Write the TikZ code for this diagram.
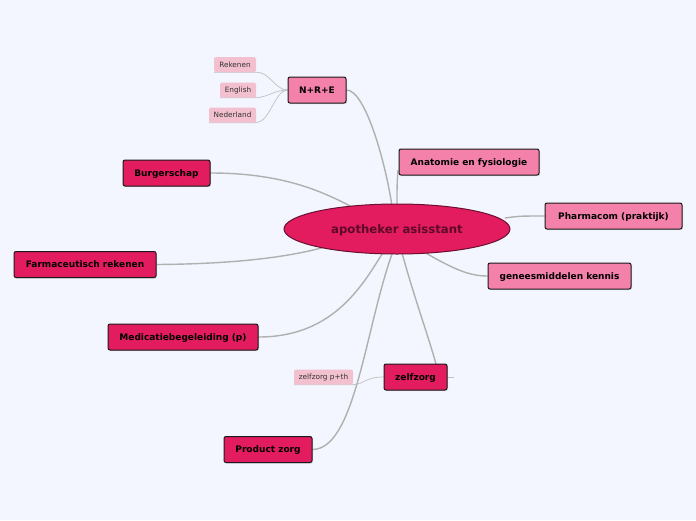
\documentclass[tikz,border=0pt]{standalone}
\usepackage{fontspec}
\setmainfont{DejaVu Sans}
\usetikzlibrary{shapes.geometric,shadows}
\definecolor{bgc}{HTML}{F3F6FE}
\definecolor{crim}{HTML}{E31B5F}
\definecolor{pinkc}{HTML}{F481AA}
\definecolor{lpink}{HTML}{F2C0CE}
\definecolor{bordc}{HTML}{1A1A1A}
\definecolor{ellb}{HTML}{6A1030}
\definecolor{ellt}{HTML}{5C0A28}
\definecolor{linec}{HTML}{B0B0B0}
\pgfdeclarelayer{back}
\pgfdeclarelayer{bg}
\pgfsetlayers{back,bg,main}
\tikzset{
  boxbase/.style={rectangle, rounded corners=2pt, draw=bordc, line width=1pt, inner sep=0pt,
    minimum height=26pt, font=\fontsize{9}{10}\selectfont\bfseries, text=black,
    text height=6.6pt, text depth=0pt,
    drop shadow={opacity=0.25, shadow xshift=1pt, shadow yshift=-1.2pt}},
  crimbox/.style={boxbase, fill=crim},
  pinkbox/.style={boxbase, fill=pinkc},
  smallbox/.style={rectangle, rounded corners=1.5pt, fill=lpink, inner sep=0pt, minimum height=15pt,
    font=\fontsize{7.3}{8}\selectfont, text=black!80, text height=5.3pt, text depth=0pt},
  branch/.style={draw=linec, line width=1.4pt},
  twig/.style={draw=linec!80, line width=0.7pt},
}
\begin{document}
\begin{tikzpicture}[x=1pt,y=-1pt]
\useasboundingbox (0,0) rectangle (696,520);
\begin{pgfonlayer}{back}
\fill[bgc] (0,0) rectangle (696,520);
\end{pgfonlayer}

\coordinate (cNRE) at (392,206);
\coordinate (cAna) at (397,206);
\coordinate (cPha) at (505,218);
\coordinate (cGen) at (424,252);
\coordinate (cBur) at (352,207);
\coordinate (cFar) at (325,247);
\coordinate (cMed) at (382,254);
\coordinate (cZel) at (402,253);
\coordinate (cPro) at (392,254);
\coordinate (zelTop) at (436,364);
\coordinate (anaEnd) at (398,170);

% nodes
\node[ellipse, draw=ellb, line width=1pt, fill=crim, minimum width=226pt, minimum height=50pt,
  font=\fontsize{11.7}{13}\selectfont\bfseries, text=ellt, text height=8.5pt, text depth=0pt] (c) at (397,229) {apotheker asisstant};

\node[pinkbox, minimum width=58pt] (nre) at (317,90) {N+R+E};
\node[smallbox, minimum width=42pt] (rek) at (235,64.5) {Rekenen};
\node[smallbox, minimum width=36pt] (eng) at (238,90) {English};
\node[smallbox, minimum width=47pt] (ned) at (232.5,115) {Nederland};
\node[pinkbox, minimum width=140pt] (ana) at (469,162) {Anatomie en fysiologie};
\node[pinkbox, minimum width=137pt] (pha) at (613.5,216) {Pharmacom (praktijk)};
\node[pinkbox, minimum width=143pt] (gen) at (559.5,276) {geneesmiddelen kennis};
\node[crimbox, minimum width=87pt] (bur) at (166.5,173) {Burgerschap};
\node[crimbox, minimum width=142pt] (far) at (85,264.5) {Farmaceutisch rekenen};
\node[crimbox, minimum width=150pt] (med) at (183,337) {Medicatiebegeleiding (p)};
\node[crimbox, minimum width=63pt] (zel) at (415.5,377) {zelfzorg};
\node[smallbox, minimum width=59pt] (zpt) at (323.5,377) {zelfzorg p+th};
\node[crimbox, minimum width=88pt] (pro) at (268,449.5) {Product zorg};

\begin{pgfonlayer}{bg}
% branches
\draw[branch] (nre.east) .. controls (365,90) and (385,160) .. (cNRE);
\draw[branch] (anaEnd) .. controls (397,185) .. (cAna);
\draw[branch] (cPha) .. controls (520,216) .. (pha.west);
\draw[branch] (cGen) .. controls (455,270) and (470,276) .. (gen.west);
\draw[branch] (bur.east) .. controls (280,173) and (320,190) .. (cBur);
\draw[branch] (far.east) .. controls (230,264) and (285,258) .. (cFar);
\draw[branch] (med.east) .. controls (330,337) and (360,290) .. (cMed);
\draw[branch] (cZel) .. controls (415,300) and (428,335) .. (zelTop);
\draw[branch] (pro.east) .. controls (355,449) and (365,330) .. (cPro);
\draw[twig] (zel.east) -- ++(6,0);
% twigs
\draw[twig] (nre.west) .. controls (275,90) and (270,72) .. (rek.south east) -- (rek.south west);
\draw[twig] (nre.west) .. controls (275,90) and (268,97) .. (eng.south east) -- (eng.south west);
\draw[twig] (nre.west) .. controls (275,90) and (270,122) .. (ned.south east) -- (ned.south west);
\draw[twig] (zel.west) .. controls (365,377) and (365,384) .. (zpt.south east) -- (zpt.south west);
\end{pgfonlayer}
\end{tikzpicture}
\end{document}
